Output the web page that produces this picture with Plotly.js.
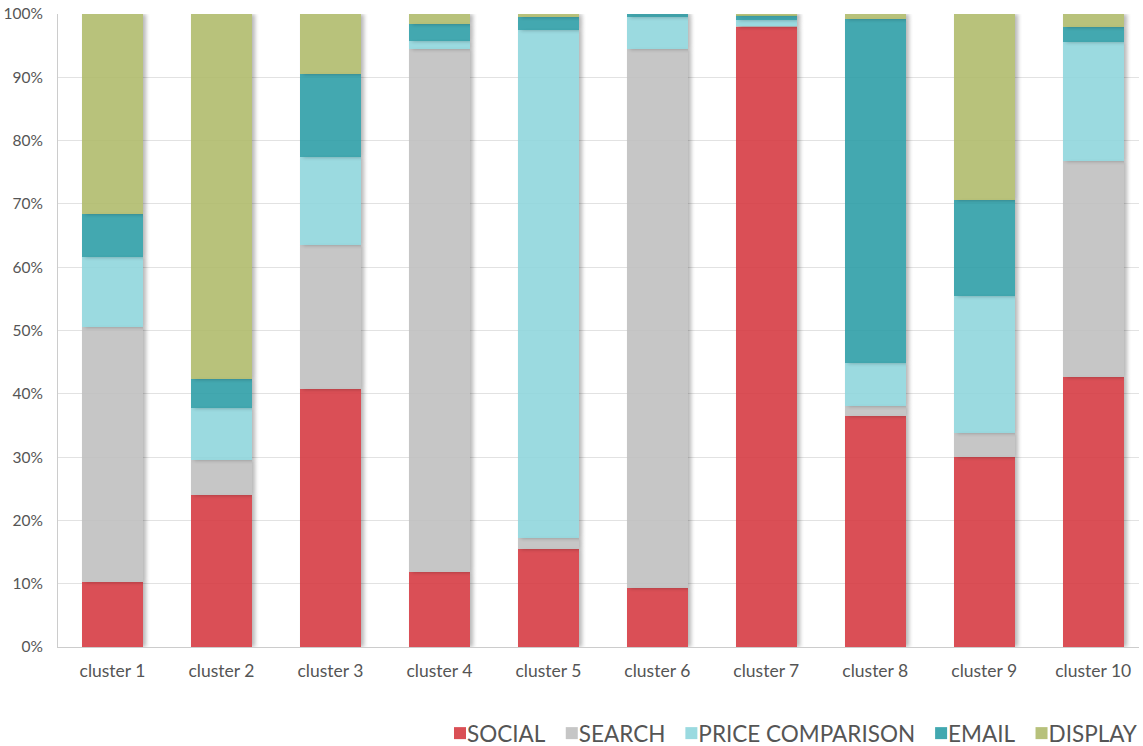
<!DOCTYPE html>
<html>
<head>
<meta charset="utf-8">
<script src="https://cdn.plot.ly/plotly-3.0.1.min.js"></script>
<style>
  html, body { margin: 0; padding: 0; background: #fff; }
  #chart { width: 1143px; height: 746px; }
  /* soft shadow on the right side of every bar segment */
  .barlayer .point path { filter: drop-shadow(3px 0px 2px rgba(0,0,0,0.32)); }
</style>
</head>
<body>
<div id="chart"></div>
<script>
// Channel mix per cluster, in percent
const clusters = ['cluster 1', 'cluster 2', 'cluster 3', 'cluster 4', 'cluster 5',
                  'cluster 6', 'cluster 7', 'cluster 8', 'cluster 9', 'cluster 10'];
const social          = [10.3, 24.0, 40.8, 11.8, 15.5,  9.4, 98.0, 36.5, 30.0, 42.6];
const search          = [40.3,  5.5, 22.7, 82.7,  1.7, 85.1,  0.1,  1.6,  3.8, 34.1];
const priceComparison = [11.0,  8.2, 13.9,  1.2, 80.2,  5.1,  0.9,  6.7, 21.7, 18.9];
const email           = [ 6.8,  4.6, 13.2,  2.8,  2.2,  0.4,  0.8, 54.4, 15.1,  2.4];
const display         = [31.6, 57.7,  9.4,  1.5,  0.4,  0.1,  0.2,  0.8, 29.4,  2.0];

const seriesNames = ['SOCIAL', 'SEARCH', 'PRICE COMPARISON', 'EMAIL', 'DISPLAY'];
const seriesValues = [social, search, priceComparison, email, display];
const seriesColors = ['#d63c43', '#c0c0c0', '#90d6dd', '#2e9fa8', '#b0bb6d'];

const traces = seriesNames.map((name, i) => ({
  type: 'bar',
  name: name,
  x: clusters,
  y: seriesValues[i],
  marker: { color: seriesColors[i], line: { width: 0 } },
  opacity: 0.9,
  hoverinfo: 'x+y+name'
}));

const layout = {
  width: 1143,
  height: 746,
  barmode: 'stack',
  bargap: 0.44,
  paper_bgcolor: '#ffffff',
  plot_bgcolor: '#ffffff',
  margin: { l: 58, r: 0, t: 14, b: 99 },
  font: { family: 'Lato, "Open Sans", sans-serif', color: '#555555' },
  xaxis: {
    type: 'category',
    range: [-0.5, 9.42],
    showgrid: false,
    showline: true,
    linecolor: '#cccccc',
    linewidth: 1,
    ticks: '',
    ticklabelstandoff: 8,
    tickfont: { size: 17.5, color: '#555555' },
    fixedrange: true
  },
  yaxis: {
    range: [0, 100],
    tickvals: [0, 10, 20, 30, 40, 50, 60, 70, 80, 90, 100],
    ticktext: ['0%', '10%', '20%', '30%', '40%', '50%', '60%', '70%', '80%', '90%', '100%'],
    showgrid: true,
    gridcolor: '#e2e2e2',
    gridwidth: 1,
    showline: true,
    linecolor: '#cccccc',
    linewidth: 1,
    zeroline: false,
    ticks: '',
    ticklabelstandoff: 11,
    tickfont: { size: 15.5, color: '#555555' },
    fixedrange: true
  },
  legend: {
    orientation: 'h',
    x: 1.004,
    xanchor: 'right',
    y: -99 / 633,
    yanchor: 'bottom',
    traceorder: 'normal',
    font: { size: 22.5, color: '#555555' },
    itemclick: false,
    itemdoubleclick: false
  },
  showlegend: true
};

function appendTransform(el, extra) {
  const t = el.getAttribute('transform') || '';
  el.setAttribute('transform', (t + ' ' + extra).trim());
}

// Compact legend: swatches hug their labels, items sit closer together
function tightenLegend() {
  const legend = document.querySelector('#chart .legend');
  if (!legend || legend.dataset.tight) return;
  legend.dataset.tight = '1';
  appendTransform(legend, 'translate(0,9)');
  const items = legend.querySelectorAll('.traces');
  const n = items.length;
  items.forEach((item, i) => {
    appendTransform(item, 'translate(' + (12 * (n - 1 - i)) + ',0)');
    const pts = item.querySelector('.legendpoints');
    if (pts) appendTransform(pts, 'translate(13,0)');
  });
}

Plotly.newPlot('chart', traces, layout, { displayModeBar: false }).then(tightenLegend);
</script>
</body>
</html>
